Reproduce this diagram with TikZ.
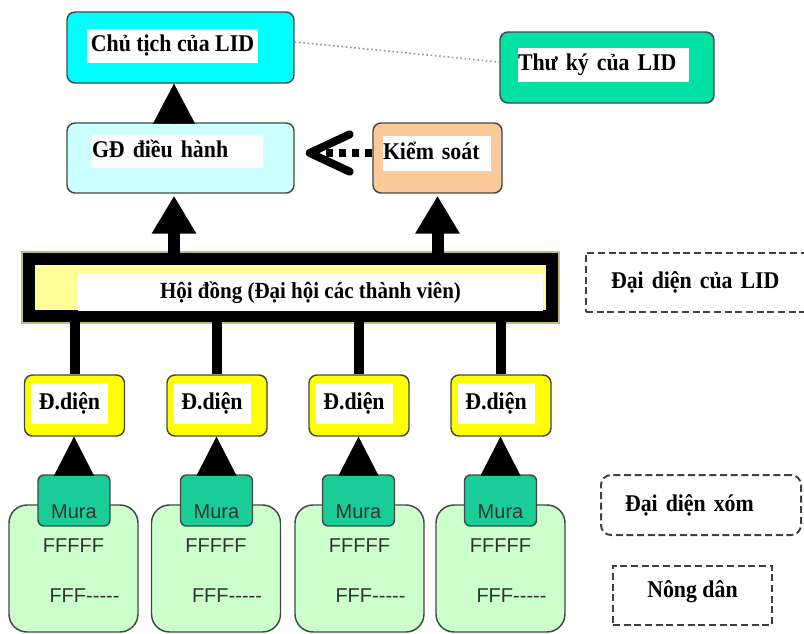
\documentclass[tikz,border=0pt]{standalone}
\usepackage{fontspec}
\setmainfont[FakeStretch=0.91]{Liberation Serif}
\newfontfamily\arialfont{Liberation Sans}
\usetikzlibrary{arrows.meta, calc}
\definecolor{chaircyan}{RGB}{0, 255, 255}
\definecolor{secgreen}{RGB}{0, 226, 163}
\definecolor{dirblue}{RGB}{204, 255, 255}
\definecolor{ctrlpeach}{RGB}{252, 202, 152}
\definecolor{councilyel}{RGB}{255, 255, 153}
\definecolor{councilrim}{RGB}{190, 190, 120}
\definecolor{repyellow}{RGB}{255, 255, 0}
\definecolor{murateal}{RGB}{26, 204, 150}
\definecolor{farmgreen}{RGB}{204, 255, 204}
\definecolor{edgegray}{RGB}{64, 72, 72}
\definecolor{dotgray}{RGB}{150, 150, 150}

\begin{document}
\begin{tikzpicture}[x=0.75pt, y=-0.75pt,
  box/.style={draw=edgegray, line width=1.1pt, rounded corners=6pt, inner sep=0pt},
  lbl/.style={fill=white, inner sep=0pt, text height=12.5pt, text depth=4pt, font=\bfseries\fontsize{18}{20}\selectfont},
  council/.style={draw=black, line width=9pt, fill=councilyel, inner sep=0pt, preaction={draw=councilrim, line width=11.5pt}},
  repbox/.style={box, fill=repyellow, minimum width=75pt, minimum height=45.75pt},
  murabox/.style={box, fill=murateal, rounded corners=4.5pt, minimum width=54pt, inner ysep=0pt, text height=32.25pt, text depth=6pt, font=\arialfont\fontsize{15}{17}\selectfont, text=black!80},
  farmbox/.style={box, fill=farmgreen, rounded corners=13.5pt, minimum width=96.75pt, minimum height=95.25pt},
  farmtxt/.style={anchor=base, inner sep=0pt, font=\arialfont\fontsize{15}{17}\selectfont, text=black!80},
  dashbox/.style={draw=black!75, line width=1.5pt, dash pattern=on 5.25pt off 2.75pt, inner ysep=0pt, font=\bfseries\fontsize{18}{20}\selectfont},
  tri/.style={-{Triangle[length=30pt, width=31.5pt]}, line width=0.2pt},
  smalltri/.style={-{Triangle[length=29.25pt, width=30pt]}, line width=0.2pt},
  uparr/.style={-{Triangle[length=28.5pt, width=31.5pt]}, line width=9pt, shorten >=1.5pt},
  ctrlarr/.style={-{Straight Barb[length=30pt, width=28pt, round]}, line width=6pt, dash pattern=on 5.25pt off 4.5pt},
  riser/.style={line width=7.5pt},
  dotline/.style={draw=dotgray, line width=1.2pt, dotted}
]
  \useasboundingbox (0,0) rectangle (804,633);
  \clip (0,0) rectangle (804,633);
  \fill[white] (0,0) rectangle (804,633);

  % Board level
  \node[box, fill=chaircyan, minimum width=170.25pt, minimum height=53.25pt] (chair) at (180.5, 47.5) {};
  \node[lbl, minimum width=128.25pt, minimum height=25.5pt] (chairlbl) at (172.5, 46) {Chủ tịch của LID};
  \node[box, fill=secgreen, minimum width=160.5pt, minimum height=53.25pt] (secretary) at (607, 67.5) {};
  \node[lbl, text width=128.25pt, align=left, minimum height=25.5pt] (seclbl) at (603.5, 65) {Thư ký của LID};

  \node[box, fill=dirblue, minimum width=170.25pt, minimum height=52.5pt] (director) at (180.5, 158) {};
  \node[lbl, text width=128.25pt, align=left, minimum height=24.75pt] (dirlbl) at (177.5, 151.5) {GĐ điều hành};
  \node[box, fill=ctrlpeach, minimum width=96.75pt, minimum height=52.5pt] (control) at (437.5, 158) {};
  \node[lbl, text width=81pt, align=left, minimum height=26.25pt] (ctrllbl) at (437, 153.5) {Kiểm soát};

  % Assembly
  \node[council, minimum width=392.25pt, minimum height=42.75pt] (council) at (290.5, 287.5) {};
  \node[lbl, minimum width=348.75pt, minimum height=27.75pt, font=\bfseries\fontsize{17.3}{19}\selectfont] (councillbl) at (310.5, 292.5) {Hội đồng (Đại hội các thành viên)};

  % Farmer groups
  \node[farmbox] (farm1) at (73.5, 568.5) {};
  \node[farmbox] (farm2) at (216, 568.5) {};
  \node[farmbox] (farm3) at (359.5, 568.5) {};
  \node[farmbox] (farm4) at (500.5, 568.5) {};
  \node[farmtxt] (farm1a) at (73.5, 552) {FFFFF};
  \node[farmtxt] (farm1b) at (84.5, 602) {FFF-----};
  \node[farmtxt] (farm2a) at (216, 552) {FFFFF};
  \node[farmtxt] (farm2b) at (227, 602) {FFF-----};
  \node[farmtxt] (farm3a) at (359.5, 552) {FFFFF};
  \node[farmtxt] (farm3b) at (370.5, 602) {FFF-----};
  \node[farmtxt] (farm4a) at (500.5, 552) {FFFFF};
  \node[farmtxt] (farm4b) at (511.5, 602) {FFF-----};

  \node[murabox] (mura1) at (74, 500.5) {Mura};
  \node[murabox] (mura2) at (216.5, 500.5) {Mura};
  \node[murabox] (mura3) at (358.5, 500.5) {Mura};
  \node[murabox] (mura4) at (500.5, 500.5) {Mura};

  % Representatives
  \node[repbox] (rep1) at (74.5, 405.5) {};
  \node[repbox] (rep2) at (217, 405.5) {};
  \node[repbox] (rep3) at (359, 405.5) {};
  \node[repbox] (rep4) at (501, 405.5) {};
  \node[lbl, minimum width=57.75pt, minimum height=30.75pt] (rep1lbl) at (69.5, 403.5) {Đ.diện};
  \node[lbl, minimum width=57.75pt, minimum height=30.75pt] (rep2lbl) at (212, 403.5) {Đ.diện};
  \node[lbl, minimum width=57.75pt, minimum height=30.75pt] (rep3lbl) at (354, 403.5) {Đ.diện};
  \node[lbl, minimum width=57.75pt, minimum height=30.75pt] (rep4lbl) at (496, 403.5) {Đ.diện};

  % Legend
  \node[dashbox, anchor=west, inner xsep=18.75pt, text width=187.5pt, align=left, minimum height=44.25pt] (lidrep) at (585, 282.5) {Đại diện của LID};
  \node[dashbox, rounded corners=7.5pt, anchor=west, inner xsep=18pt, text width=114pt, align=left, minimum height=45pt] (hamlet) at (600, 505) {Đại diện xóm};
  \node[dashbox, minimum width=119.25pt, text height=23.25pt, text depth=21pt] (farmers) at (692.5, 595.5) {Nông dân};

  % Connectors
  \draw[dotline] ($(chair.east)+(0,-5.5)$) -- ($(secretary.west)+(0,-5.5)$);
  \draw[tri] ($(director.north)+(-6.5,0)$) -- ($(chair.south)+(-6.5,0)$);
  \draw[uparr] ($(director.south |- council.north)+(-6.5,0)$) -- ($(director.south)+(-6.5,0)$);
  \draw[uparr] (control.south |- council.north) -- (control.south);
  \draw[ctrlarr] ($(control.west)+(0,-5)$) -- ($(director.east)+(11,-5)$);

  \draw[riser] (rep1.north) -- (rep1.north |- council.south);
  \draw[riser] (rep2.north) -- (rep2.north |- council.south);
  \draw[riser] (rep3.north) -- (rep3.north |- council.south);
  \draw[riser] (rep4.north) -- (rep4.north |- council.south);

  \draw[smalltri] (mura1.north) -- (mura1.north |- rep1.south);
  \draw[smalltri] (mura2.north) -- (mura2.north |- rep2.south);
  \draw[smalltri] (mura3.north) -- (mura3.north |- rep3.south);
  \draw[smalltri] (mura4.north) -- (mura4.north |- rep4.south);
\end{tikzpicture}
\end{document}
